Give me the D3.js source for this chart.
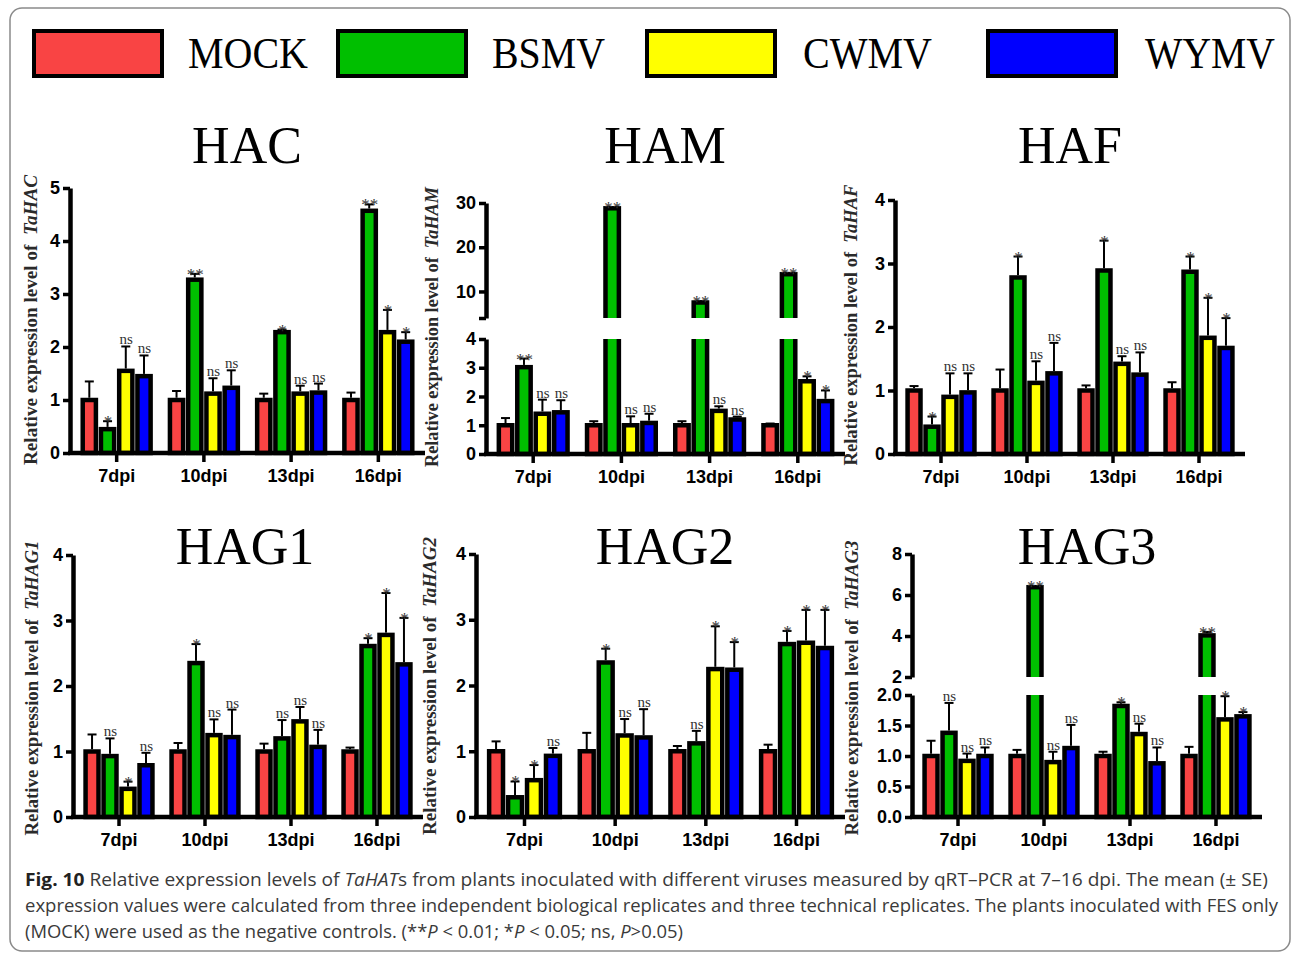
<!DOCTYPE html>
<html>
<head>
<meta charset="utf-8">
<script src="https://cdn.jsdelivr.net/npm/d3@7"></script>
<style>
  body { margin: 0; background: #fff; }
  svg { display: block; }
</style>
</head>
<body>
<svg id="fig" width="1293" height="954"></svg>
<script>
// groups and series
const groups = ["7dpi", "10dpi", "13dpi", "16dpi"];
const series = ["MOCK", "BSMV", "CWMV", "WYMV"];
const colors = ["#f94444", "#00bf00", "#ffff00", "#0000ff"];

// mean values, one row per group (MOCK, BSMV, CWMV, WYMV)
const hacMean = [[1.0, 0.45, 1.55, 1.45], [1.0, 3.27, 1.12, 1.23], [1.0, 2.28, 1.12, 1.14], [1.0, 4.57, 2.28, 2.10]];
const hacSE   = [[0.35, 0.15, 0.46, 0.39], [0.17, 0.11, 0.29, 0.33], [0.12, 0.05, 0.15, 0.17], [0.14, 0.12, 0.42, 0.18]];
const hacSig  = [["", "*", "ns", "ns"], ["", "**", "ns", "ns"], ["", "*", "ns", "ns"], ["", "**", "*", "*"]];

const hamMean = [[1.0, 3.02, 1.40, 1.45], [1.0, 28.8, 1.00, 1.08], [1.0, 7.5, 1.50, 1.20], [1.0, 13.9, 2.53, 1.84]];
const hamSE   = [[0.25, 0.30, 0.49, 0.42], [0.14, 0.30, 0.31, 0.32], [0.14, 0.30, 0.16, 0.10], [0.06, 0.30, 0.17, 0.37]];
const hamSig  = [["", "**", "ns", "ns"], ["", "**", "ns", "ns"], ["", "**", "ns", "ns"], ["", "**", "*", "*"]];

const hafMean = [[1.0, 0.43, 0.90, 0.97], [1.0, 2.78, 1.12, 1.27], [1.0, 2.89, 1.42, 1.25], [1.0, 2.87, 1.83, 1.67]];
const hafSE   = [[0.07, 0.16, 0.37, 0.30], [0.33, 0.33, 0.34, 0.48], [0.08, 0.47, 0.12, 0.35], [0.13, 0.24, 0.63, 0.47]];
const hafSig  = [["", "*", "ns", "ns"], ["", "*", "ns", "ns"], ["", "*", "ns", "ns"], ["", "*", "*", "*"]];

const hag1Mean = [[1.0, 0.93, 0.43, 0.79], [1.0, 2.35, 1.25, 1.22], [1.0, 1.20, 1.46, 1.07], [1.0, 2.61, 2.78, 2.33]];
const hag1SE   = [[0.26, 0.27, 0.11, 0.19], [0.13, 0.29, 0.24, 0.42], [0.12, 0.28, 0.22, 0.26], [0.06, 0.12, 0.64, 0.71]];
const hag1Sig  = [["", "ns", "*", "ns"], ["", "*", "ns", "ns"], ["", "ns", "ns", "ns"], ["", "*", "*", "*"]];

const hag2Mean = [[1.0, 0.30, 0.56, 0.93], [1.0, 2.35, 1.24, 1.21], [1.0, 1.12, 2.25, 2.24], [1.0, 2.63, 2.65, 2.57]];
const hag2SE   = [[0.15, 0.24, 0.23, 0.12], [0.28, 0.21, 0.25, 0.43], [0.08, 0.19, 0.65, 0.42], [0.10, 0.20, 0.50, 0.58]];
const hag2Sig  = [["", "*", "*", "ns"], ["", "*", "ns", "ns"], ["", "ns", "*", "*"], ["", "*", "*", "*"]];

const hag3Mean = [[1.0, 1.38, 0.92, 1.00], [1.0, 6.38, 0.90, 1.13], [1.0, 1.82, 1.36, 0.88], [1.0, 4.03, 1.60, 1.65]];
const hag3SE   = [[0.25, 0.49, 0.12, 0.14], [0.10, 0.05, 0.17, 0.38], [0.07, 0.06, 0.17, 0.26], [0.15, 0.17, 0.38, 0.07]];
const hag3Sig  = [["", "ns", "ns", "ns"], ["", "**", "ns", "ns"], ["", "*", "ns", "ns"], ["", "**", "*", "*"]];

// y tick values
const ticks0to5 = [0, 1, 2, 3, 4, 5];
const ticks0to4 = [0, 1, 2, 3, 4];
const hamUpperTicks = [4, 10, 20, 30];
const hag3LowerTicks = [0, 0.5, 1.0, 1.5, 2.0];
const hag3UpperTicks = [2, 4, 6, 8];

const svg = d3.select("#fig");
const sans = "'Liberation Sans', Arial, sans-serif";
const serif = "'Liberation Serif', 'Times New Roman', serif";
const barStroke = 4.5;

svg.append("rect").attr("width", 1293).attr("height", 954).attr("fill", "#fff");

// outer frame
svg.append("rect")
  .attr("x", 10).attr("y", 8).attr("width", 1280).attr("height", 943)
  .attr("rx", 12).attr("fill", "none").attr("stroke", "#8a8a8a").attr("stroke-width", 1.5);

// legend
const legendX = [34, 338, 647, 988];
const legendTextX = [188, 492, 803, 1145];
const legendTextW = [120, 113, 129, 130];
series.forEach((s, i) => {
  svg.append("rect")
    .attr("x", legendX[i]).attr("y", 31).attr("width", 128).attr("height", 45)
    .attr("fill", colors[i]).attr("stroke", "#000").attr("stroke-width", 4);
  svg.append("text")
    .attr("x", legendTextX[i]).attr("y", 68)
    .attr("font-family", serif).attr("font-size", 44)
    .attr("textLength", legendTextW[i]).attr("lengthAdjust", "spacingAndGlyphs")
    .text(s);
});

const panels = [
  { title: "HAC", gene: "TaHAC", mean: hacMean, se: hacSE, sig: hacSig,
    axisX: 70, xEnd: 425, titleX: 247, titleY: 163, labelDx: -33, labelY: 320, labelW: 290,
    segs: [{ domain: [0, 5], range: [453, 188], ticks: ticks0to5, fmt: d3.format("d") }] },
  { title: "HAM", gene: "TaHAM", mean: hamMean, se: hamSE, sig: hamSig,
    axisX: 486, xEnd: 845, titleX: 665, titleY: 163, labelDx: -48, labelY: 327, labelW: 280,
    segs: [{ domain: [0, 4], range: [454, 339], ticks: ticks0to4, fmt: d3.format("d") },
           { domain: [4, 30], range: [318, 203], ticks: hamUpperTicks, fmt: d => d === 4 ? "" : d }] },
  { title: "HAF", gene: "TaHAF", mean: hafMean, se: hafSE, sig: hafSig,
    axisX: 895, xEnd: 1245, titleX: 1070, titleY: 163, labelDx: -38, labelY: 325, labelW: 281,
    segs: [{ domain: [0, 4], range: [454, 200], ticks: ticks0to4, fmt: d3.format("d") }] },
  { title: "HAG1", gene: "TaHAG1", mean: hag1Mean, se: hag1SE, sig: hag1Sig,
    axisX: 73, xEnd: 423, titleX: 245, titleY: 564, labelDx: -35, labelY: 688, labelW: 295,
    segs: [{ domain: [0, 4], range: [817, 555], ticks: ticks0to4, fmt: d3.format("d") }] },
  { title: "HAG2", gene: "TaHAG2", mean: hag2Mean, se: hag2SE, sig: hag2Sig,
    axisX: 476, xEnd: 845, titleX: 665, titleY: 564, labelDx: -40, labelY: 686, labelW: 298,
    segs: [{ domain: [0, 4], range: [817, 554], ticks: ticks0to4, fmt: d3.format("d") }] },
  { title: "HAG3", gene: "TaHAG3", mean: hag3Mean, se: hag3SE, sig: hag3Sig,
    axisX: 912, xEnd: 1262, titleX: 1087, titleY: 564, labelDx: -54, labelY: 688, labelW: 295,
    segs: [{ domain: [0, 2], range: [817, 695], ticks: hag3LowerTicks, fmt: d3.format(".1f") },
           { domain: [2, 8], range: [677, 554], ticks: hag3UpperTicks, fmt: d3.format("d") }] }
];

panels.forEach((p, pi) => {
  const g = svg.append("g");
  const y0 = p.segs[0].range[0];

  // title
  g.append("text")
    .attr("x", p.titleX).attr("y", p.titleY)
    .attr("text-anchor", "middle")
    .attr("font-family", serif).attr("font-size", 52)
    .text(p.title);

  // y label
  const lab = g.append("text")
    .attr("transform", `translate(${p.axisX + p.labelDx},${p.labelY}) rotate(-90)`)
    .attr("text-anchor", "middle")
    .attr("font-family", serif).attr("font-size", 18).attr("font-weight", "bold")
    .attr("fill", "#2a2a2a")
    .attr("textLength", p.labelW).attr("lengthAdjust", "spacingAndGlyphs");
  lab.append("tspan").text("Relative expression level of\u00a0\u00a0");
  lab.append("tspan").attr("font-style", "italic").text(p.gene);

  // scales
  const x = d3.scaleBand().domain(groups).range([p.axisX, p.xEnd])
    .paddingInner(0.17).paddingOuter(0.12);
  const xs = d3.scaleBand().domain(series).range([0, x.bandwidth()]).paddingInner(0.03);
  p.segs.forEach(s => { s.scale = d3.scaleLinear().domain(s.domain).range(s.range); });
  const segFor = v => p.segs.find(s => v <= s.domain[1]) || p.segs[p.segs.length - 1];

  // flatten data
  const rows = [];
  groups.forEach((gr, gi) => series.forEach((s, si) => {
    rows.push({ group: gr, series: s, si: si, v: p.mean[gi][si], se: p.se[gi][si], sig: p.sig[gi][si] });
  }));

  // bars, drawn once per axis segment and clipped to it
  p.segs.forEach((s, k) => {
    const clipId = `clip-${pi}-${k}`;
    const top = s.range[1];
    const bottom = k === 0 ? s.range[0] + 10 : s.range[0];
    svg.append("clipPath").attr("id", clipId).append("rect")
      .attr("x", p.axisX).attr("y", top)
      .attr("width", p.xEnd - p.axisX).attr("height", bottom - top);
    const segRows = rows.filter(d => d.v > s.domain[0] || k === 0);
    g.append("g").attr("clip-path", `url(#${clipId})`)
      .selectAll("rect").data(segRows).join("rect")
      .attr("x", d => x(d.group) + xs(d.series) + barStroke / 2)
      .attr("width", xs.bandwidth() - barStroke)
      .attr("y", d => d.v > s.domain[1] ? top - 20 : s.scale(d.v))
      .attr("height", d => {
        const yt = d.v > s.domain[1] ? top - 20 : s.scale(d.v);
        const yb = k === 0 ? s.range[0] : s.range[0] + 20;
        return yb - yt;
      })
      .attr("fill", d => colors[d.si])
      .attr("stroke", "#000").attr("stroke-width", barStroke);

    // y axis for this segment
    const ax = g.append("g")
      .attr("transform", `translate(${p.axisX},0)`)
      .call(d3.axisLeft(s.scale).tickValues(s.ticks).tickFormat(s.fmt).tickSize(7).tickSizeOuter(0).tickPadding(3));
    ax.select(".domain").attr("stroke-width", 4.5);
    ax.selectAll(".tick line").attr("stroke-width", 3.5);
    ax.selectAll(".tick text")
      .attr("font-family", sans).attr("font-weight", "bold").attr("font-size", 18).attr("fill", "#000");
  });

  // error bars
  const eb = g.append("g").selectAll("g").data(rows).join("g");
  eb.each(function (d) {
    const s = segFor(d.v);
    const cx = x(d.group) + xs(d.series) + xs.bandwidth() / 2;
    const yTop = s.scale(d.v + d.se);
    const yBar = s.scale(d.v);
    d.cx = cx; d.yTop = yTop;
    const e = d3.select(this);
    e.append("line").attr("x1", cx).attr("x2", cx).attr("y1", yBar - barStroke / 2).attr("y2", yTop)
      .attr("stroke", "#000").attr("stroke-width", 2);
    e.append("line").attr("x1", cx - 4.5).attr("x2", cx + 4.5).attr("y1", yTop).attr("y2", yTop)
      .attr("stroke", "#000").attr("stroke-width", 2);
  });

  // significance marks
  g.append("g").selectAll("text").data(rows.filter(d => d.sig)).join("text")
    .attr("x", d => d.cx + 0.5)
    .attr("y", d => d.sig === "ns" ? d.yTop - 2 : d.yTop + 6)
    .attr("text-anchor", "middle")
    .attr("font-family", serif).attr("font-size", d => d.sig === "ns" ? 15 : 17)
    .attr("fill", "#333")
    .text(d => d.sig);

  // x axis
  g.append("line")
    .attr("x1", p.axisX - 2).attr("x2", p.xEnd).attr("y1", y0).attr("y2", y0)
    .attr("stroke", "#000").attr("stroke-width", 4.5);
  const xa = g.append("g")
    .attr("transform", `translate(0,${y0})`)
    .call(d3.axisBottom(x).tickSize(9).tickSizeOuter(0).tickPadding(7));
  xa.select(".domain").remove();
  xa.selectAll(".tick line").attr("stroke-width", 3.5);
  xa.selectAll(".tick text")
    .attr("font-family", sans).attr("font-weight", "bold").attr("font-size", 18).attr("fill", "#000");
});

// caption
const capFont = "'Open Sans', 'Noto Sans', sans-serif";
const cap1 = svg.append("text").attr("x", 25).attr("y", 886)
  .attr("font-family", capFont).attr("font-size", 17.5).attr("fill", "#3a3a3a")
  .attr("textLength", 1243).attr("lengthAdjust", "spacingAndGlyphs");
cap1.append("tspan").attr("font-weight", "bold").attr("fill", "#222").text("Fig. 10");
cap1.append("tspan").text(" Relative expression levels of ");
cap1.append("tspan").attr("font-style", "italic").text("TaHAT");
cap1.append("tspan").text("s from plants inoculated with different viruses measured by qRT\u2013PCR at 7\u201316 dpi. The mean (\u00b1 SE)");

svg.append("text").attr("x", 25).attr("y", 912)
  .attr("font-family", capFont).attr("font-size", 17.5).attr("fill", "#3a3a3a")
  .attr("textLength", 1253).attr("lengthAdjust", "spacingAndGlyphs")
  .text("expression values were calculated from three independent biological replicates and three technical replicates. The plants inoculated with FES only");

const cap3 = svg.append("text").attr("x", 25).attr("y", 938)
  .attr("font-family", capFont).attr("font-size", 17.5).attr("fill", "#3a3a3a")
  .attr("textLength", 658).attr("lengthAdjust", "spacingAndGlyphs");
cap3.append("tspan").text("(MOCK) were used as the negative controls. (**");
cap3.append("tspan").attr("font-style", "italic").text("P");
cap3.append("tspan").text(" < 0.01; *");
cap3.append("tspan").attr("font-style", "italic").text("P");
cap3.append("tspan").text(" < 0.05; ns, ");
cap3.append("tspan").attr("font-style", "italic").text("P");
cap3.append("tspan").text(">0.05)");
</script>
</body>
</html>
